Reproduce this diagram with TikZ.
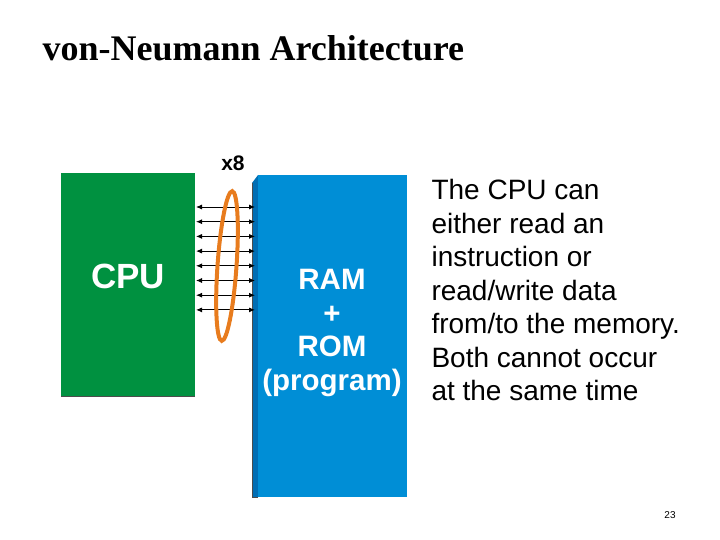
\documentclass[tikz,border=0pt]{standalone}
\usepackage{fontspec}
\setmainfont{Liberation Serif}
\setsansfont{Liberation Sans}
\usepackage{tikz}
\usetikzlibrary{positioning,arrows.meta}
\definecolor{cpugreen}{RGB}{0,145,64}
\definecolor{memblue}{RGB}{0,142,214}
\definecolor{memside}{RGB}{0,110,180}
\definecolor{busorange}{RGB}{232,124,30}
\tikzset{
  box/.style={font=\sffamily\bfseries\fontsize{35}{40}\selectfont, text=white},
  bus/.style={{Latex[length=6pt,width=5pt]}-{Latex[length=6pt,width=5pt]}, line width=0.9pt}
}
\begin{document}
\begin{tikzpicture}[x=1pt,y=-1pt]
\useasboundingbox (0,0) rectangle (720,540);
\node[font=\bfseries\fontsize{36}{40}\selectfont, anchor=west] (title) at (39,48) {von-Neumann Architecture};
% memory block with its side strip
\fill[memside] (252,183) -- (258,175) -- (258,497) -- (252,497) -- cycle;
\draw[black!70, line width=0.8pt] (252,183) -- (252,497) -- (258,497);
\fill[memblue] (258,175) rectangle (407,497);
\node[text=white, font=\sffamily\bfseries\fontsize{29.5}{33.5}\selectfont, align=center] (mem) at (332,333) {RAM\\+\\ROM\\(program)};
% cpu block
\fill[cpugreen] (61,173) rectangle (195,396);
\draw[black!70, line width=1pt] (61,396) -- (195,396);
\node[box] (cpu) at (128,276) {CPU};
% bus lines
\foreach \i in {0,...,7}
  \draw[bus] (196,{207+\i*14.7}) -- (255,{207+\i*14.7});
\draw[busorange, line width=4pt, rotate around={-4:(227,266)}] (227,266) ellipse (9.5 and 75);
\node[font=\sffamily\bfseries\fontsize{21}{24}\selectfont] (x8) at (233,163) {x8};
% description
\node[font=\sffamily\fontsize{28}{33.5}\selectfont, align=left, anchor=north west] (desc) at (428,176)
  {The CPU can\\either read an\\instruction or\\read/write data\\from/to the memory.\\Both cannot occur\\at the same time};
\node[font=\sffamily\fontsize{10}{12}\selectfont] (page) at (670,515) {23};
\end{tikzpicture}
\end{document}
